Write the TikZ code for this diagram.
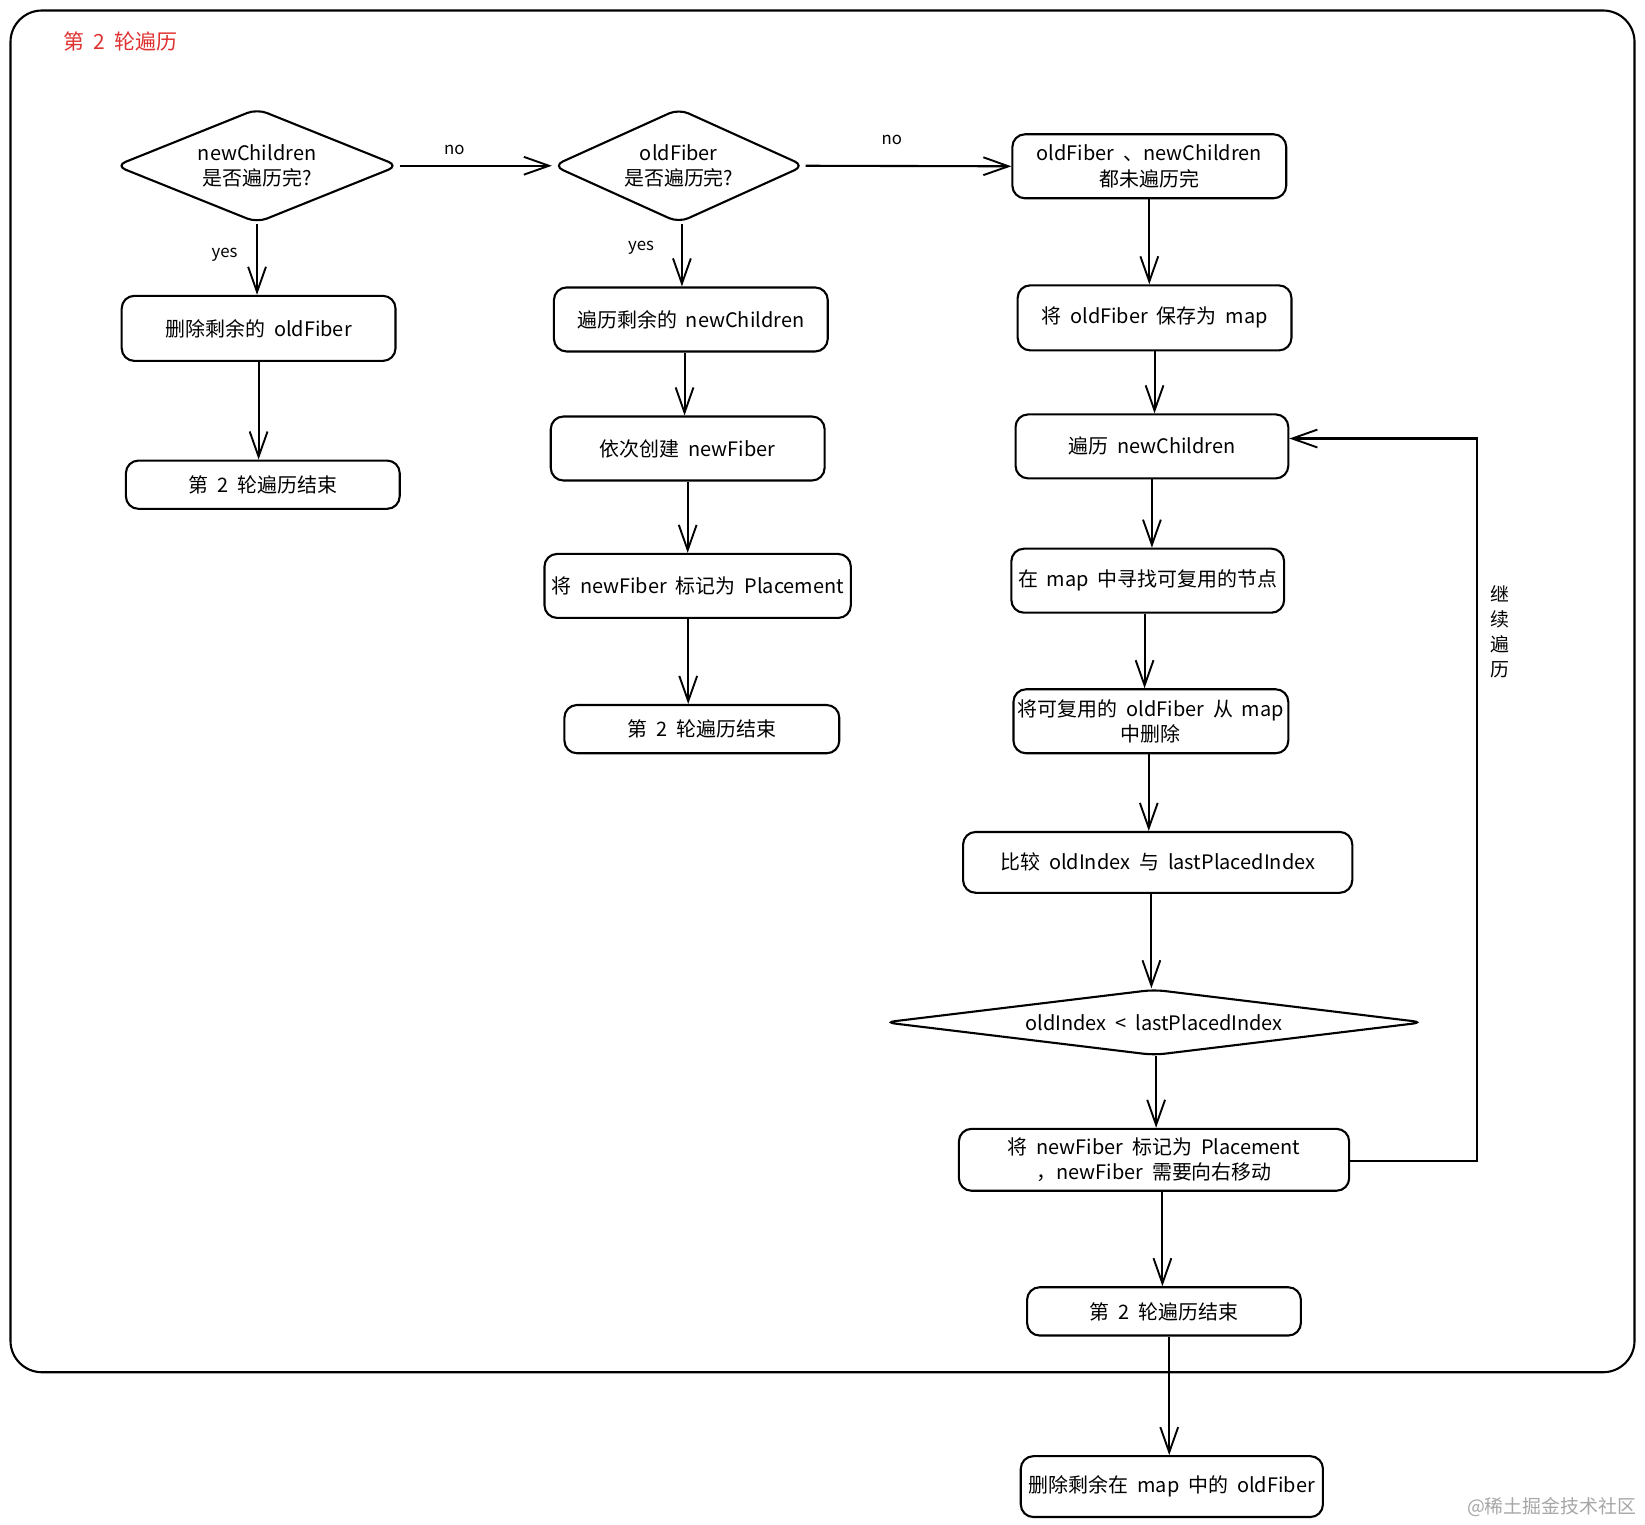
\documentclass[tikz,border=0pt]{standalone}
\usepackage{fontspec}
\setmainfont{Noto Sans CJK SC}[WordSpace=2]
\usetikzlibrary{arrows.meta,shapes.geometric,calc}
\definecolor{titlered}{HTML}{E03131}
\begin{document}
\begin{tikzpicture}[x=1pt,y=-1pt,
 every node/.style={font=\fontsize{19}{24}\selectfont},
 box/.style={draw, rounded corners=12pt, line width=2pt, align=center, inner sep=0pt},
 dia/.style={draw, diamond, rounded corners=10pt, line width=2pt, align=center, inner sep=0pt},
 conn/.style={line width=2pt, -{Straight Barb[length=24pt,width=17pt,line width=1.8pt]}},
 lbl/.style={font=\fontsize{16}{18}\selectfont}]
\useasboundingbox (0,0) rectangle (1568,1453.6);
\draw[line width=2pt, rounded corners=30pt] (10,10) rectangle (1558,1308);
\node[anchor=west, text=titlered, font=\fontsize{20}{24}\selectfont] (title) at (57,40) {第 2 轮遍历};

% diamonds
\node[dia, minimum width=270pt, minimum height=109pt, aspect=2.48] (D1) at (245,158) {newChildren\\是否遍历完?};
\node[dia, minimum width=240pt, minimum height=109pt, aspect=2.2] (D2) at (647,158) {oldFiber\\是否遍历完?};
\node[dia, minimum width=514pt, minimum height=63pt, aspect=8.16] (D3) at (1100,974.5) {oldIndex < lastPlacedIndex};

% left column
\node[box, minimum width=261pt, minimum height=62pt] (L1) at (246.5,313) {删除剩余的 oldFiber};
\node[box, minimum width=261pt, minimum height=46pt] (L2) at (250.5,462) {第 2 轮遍历结束};

% middle column
\node[box, minimum width=261pt, minimum height=61pt] (M1) at (658.5,304.5) {遍历剩余的 newChildren};
\node[box, minimum width=261pt, minimum height=61pt] (M2) at (655.5,427.5) {依次创建 newFiber};
\node[box, minimum width=292pt, minimum height=61pt] (M3) at (665,558.5) {将 newFiber 标记为 Placement};
\node[box, minimum width=262pt, minimum height=46pt] (M4) at (669,695) {第 2 轮遍历结束};

% right column
\node[box, minimum width=261pt, minimum height=61pt] (R1) at (1095.5,158.5) {oldFiber 、newChildren\\都未遍历完};
\node[box, minimum width=261pt, minimum height=62pt] (R2) at (1100.5,303) {将 oldFiber 保存为 map};
\node[box, minimum width=260pt, minimum height=61pt] (R3) at (1098,425.5) {遍历 newChildren};
\node[box, minimum width=260pt, minimum height=61pt] (R4) at (1094,553.5) {在 map 中寻找可复用的节点};
\node[box, minimum width=262pt, minimum height=61pt] (R5) at (1097,687.5) {将可复用的 oldFiber 从 map\\中删除};
\node[box, minimum width=371pt, minimum height=58pt] (R6) at (1103.5,822) {比较 oldIndex 与 lastPlacedIndex};
\node[box, minimum width=372pt, minimum height=59pt] (R7) at (1100,1105.5) {将 newFiber 标记为 Placement\\，newFiber 需要向右移动};
\node[box, minimum width=261pt, minimum height=46pt] (R8) at (1109.5,1250) {第 2 轮遍历结束};
\node[box, minimum width=288pt, minimum height=58pt] (R9) at (1117,1417) {删除剩余在 map 中的 oldFiber};

% labels
\node[lbl] (no1) at (433,143) {no};
\node[lbl] (no2) at (850,133) {no};
\node[lbl] (yes1) at (214,243) {yes};
\node[lbl] (yes2) at (611,236) {yes};
\node[font=\fontsize{18}{24}\selectfont, align=center] (cont) at (1430,602) {继\\续\\遍\\历};
\coordinate (loopx) at (1408,0);
\coordinate (loopin) at ([yshift=7.5pt]R3.east);

% connectors
\draw[conn] (D1.east) -- (D2.west);
\draw[conn] (D2.east) -- (R1.west);
\draw[conn] (D1.south) -- (D1.south |- L1.north);
\draw[conn] (L1.south) -- (L1.south |- L2.north);
\draw[conn] ([xshift=3pt]D2.south) -- ([xshift=3pt]D2.south |- M1.north);
\draw[conn] ([xshift=-6pt]M1.south) -- ([xshift=-6pt]M1.south |- M2.north);
\draw[conn] (M2.south) -- (M2.south |- M3.north);
\draw[conn] ([xshift=-9pt]M3.south) -- ([xshift=-9pt]M3.south |- M4.north);
\draw[conn] (R1.south) -- (R1.south |- R2.north);
\draw[conn] (R2.south) -- (R2.south |- R3.north);
\draw[conn] (R3.south) -- (R3.south |- R4.north);
\draw[conn] ([xshift=-3pt]R4.south) -- ([xshift=-3pt]R4.south |- R5.north);
\draw[conn] ([xshift=-2pt]R5.south) -- ([xshift=-2pt]R5.south |- R6.north);
\draw[conn] ([xshift=-6pt]R6.south) -- ([xshift=-6pt]R6.south |- D3.north);
\draw[conn] ([xshift=2pt]D3.south) -- ([xshift=2pt]D3.south |- R7.north);
\draw[conn] ([xshift=8pt]R7.south) -- ([xshift=8pt]R7.south |- R8.north);
\draw[conn] ([xshift=5pt]R8.south) -- ([xshift=5pt]R8.south |- R9.north);
\draw[conn] ([yshift=-1.5pt]R7.east) -| (loopx |- loopin) -- (loopin);

\node[anchor=east, text=black!35, font=\fontsize{18}{20}\selectfont] (wm) at (1563,1437) {@稀土掘金技术社区};
\end{tikzpicture}
\end{document}
